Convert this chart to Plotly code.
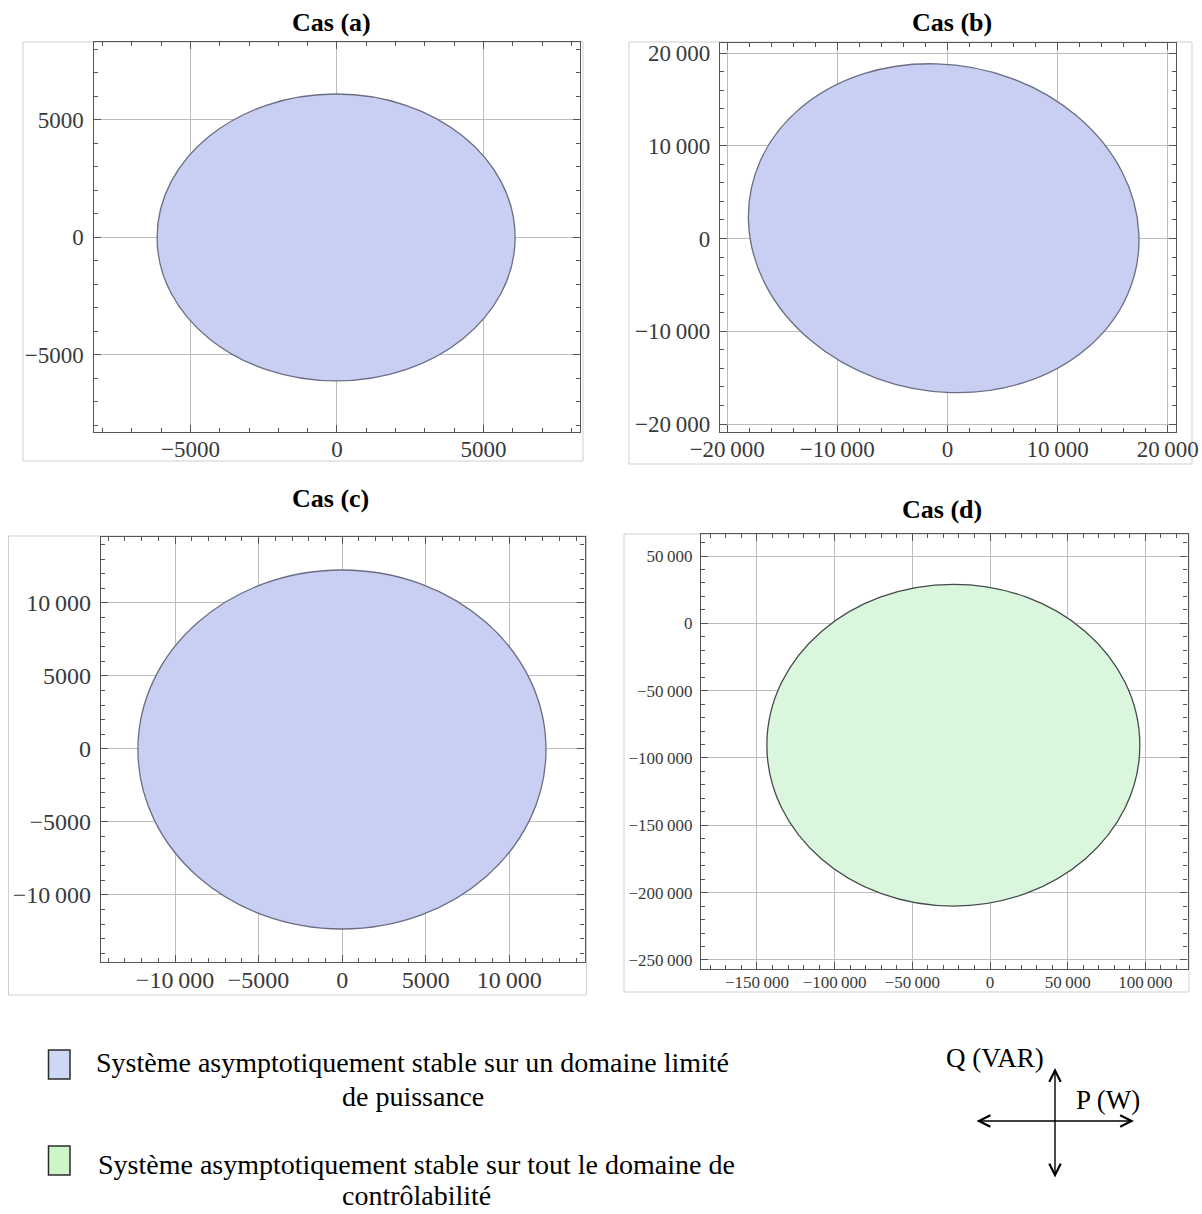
import math
import plotly.graph_objects as go

W, H = 1202, 1214
SERIF = "Liberation Serif, Times New Roman, serif"

# ---------------- data ----------------
panel_titles = ["Cas (a)", "Cas (b)", "Cas (c)", "Cas (d)"]

# stability region boundary: ellipse parameters in (P [W], Q [VAR])
ell_center_p = [-30, -340, -10, -23600]
ell_center_q = [-20, 1115, -35, -90500]
ell_semi_a = [6110, 18344, 12210, 120000]    # semi-axis along tilt direction
ell_semi_b = [6105, 17094, 12295, 119500]    # perpendicular semi-axis
ell_tilt_deg = [0, -45, 0, 0]
region_kind = ["limited", "limited", "limited", "full"]

x_ranges = [[-8310, 8294], [-20650, 20750], [-14430, 14510], [-186000, 127150]]
y_ranges = [[-8298, 8298], [-20860, 21080], [-14590, 14520], [-256700, 66340]]

x_tickvals = [[-5000, 0, 5000],
              [-20000, -10000, 0, 10000, 20000],
              [-10000, -5000, 0, 5000, 10000],
              [-150000, -100000, -50000, 0, 50000, 100000]]
x_ticktext = [["−5000", "0", "5000"],
              ["−20\u2009000", "−10\u2009000", "0", "10\u2009000", "20\u2009000"],
              ["−10\u2009000", "−5000", "0", "5000", "10\u2009000"],
              ["−150\u2009000", "−100\u2009000", "−50\u2009000", "0", "50\u2009000", "100\u2009000"]]
y_tickvals = [[-5000, 0, 5000],
              [-20000, -10000, 0, 10000, 20000],
              [-10000, -5000, 0, 5000, 10000],
              [-250000, -200000, -150000, -100000, -50000, 0, 50000]]
y_ticktext = [["−5000", "0", "5000"],
              ["−20\u2009000", "−10\u2009000", "0", "10\u2009000", "20\u2009000"],
              ["−10\u2009000", "−5000", "0", "5000", "10\u2009000"],
              ["−250\u2009000", "−200\u2009000", "−150\u2009000", "−100\u2009000", "−50\u2009000", "0", "50\u2009000"]]
minor_dtick = [1000, 2000, 1000, 10000]

legend_lines = [["Système asymptotiquement stable sur un domaine limité", "de puissance"],
                ["Système asymptotiquement stable sur tout le domaine de", "contrôlabilité"]]
axis_labels = ["Q (VAR)", "P (W)"]

# ---------------- styling / layout (pixels) ----------------
fill_col = {"limited": "#c9cff3", "full": "#daf7de"}
edge_col = {"limited": "#6b6e82", "full": "#454a4a"}
legend_fill = {"limited": "#cdd9f4", "full": "#cdf6c8"}

frame_px = [(93.5, 42, 580, 432), (720, 43, 1176, 432),
            (101, 537, 584.6, 962), (701, 534, 1187.6, 969)]
box_px = [(23, 42, 583, 461), (629, 42, 1192, 464),
          (8.5, 536, 586.5, 995), (624, 534, 1189, 992)]
title_px = [(331, 22), (952, 22), (330, 498), (942, 510)]
tick_size = [23, 23, 24, 17]
xlabel_standoff = [-4, -4, -4, -3]


def px(x):
    return x / W


def py(y):
    return 1 - y / H


def ellipse_path(cx, cy, a, b, tilt):
    t = math.radians(tilt)
    ux, uy = a * math.cos(t), a * math.sin(t)
    vx, vy = -b * math.sin(t), b * math.cos(t)
    k = 0.5522847498
    P = [(cx + ux, cy + uy), (cx + vx, cy + vy), (cx - ux, cy - uy), (cx - vx, cy - vy)]
    D = [(vx, vy), (-ux, -uy), (-vx, -vy), (ux, uy)]  # tangent directions at P[i]
    s = "M %.3f,%.3f" % P[0]
    for i in range(4):
        p0, p1 = P[i], P[(i + 1) % 4]
        d0, d1 = D[i], D[(i + 1) % 4]
        c1 = (p0[0] + k * d0[0], p0[1] + k * d0[1])
        c2 = (p1[0] - k * d1[0], p1[1] - k * d1[1])
        s += " C %.3f,%.3f %.3f,%.3f %.3f,%.3f" % (c1 + c2 + p1)
    return s + " Z"


fig = go.Figure()
shapes = []
annotations = []
layout_axes = {}

for i in range(4):
    n = "" if i == 0 else str(i + 1)
    xa, ya = "x" + n, "y" + n
    x0, y0, x1, y1 = frame_px[i]
    tickfont = dict(family=SERIF, size=tick_size[i], color="#3a3a3a")
    common = dict(
        showline=True, linecolor="#555555", linewidth=1.4, mirror="allticks",
        ticks="inside", ticklen=7, tickwidth=1, tickcolor="#555555",
        showgrid=True, gridcolor="#bdbdbd", gridwidth=1, zeroline=False,
        tickmode="array", tickfont=tickfont,
        fixedrange=True, automargin=False,
    )
    minor = dict(tickmode="linear", tick0=0, dtick=minor_dtick[i], ticks="inside",
                 ticklen=4, tickwidth=1, tickcolor="#555555", showgrid=False)
    layout_axes["xaxis" + n] = dict(
        common, domain=[px(x0), px(x1)], anchor=ya, range=x_ranges[i],
        tickvals=x_tickvals[i], ticktext=x_ticktext[i], minor=minor,
        ticklabelstandoff=xlabel_standoff[i],
    )
    layout_axes["yaxis" + n] = dict(
        common, domain=[py(y1), py(y0)], anchor=xa, range=y_ranges[i],
        tickvals=y_tickvals[i], ticktext=y_ticktext[i], minor=minor,
        ticklabelstandoff=4,
    )
    # invisible anchor trace (region centre) so the subplot is drawn
    fig.add_trace(go.Scatter(x=[ell_center_p[i]], y=[ell_center_q[i]], mode="markers",
                             marker=dict(size=1, opacity=0), hoverinfo="skip",
                             showlegend=False, xaxis=xa, yaxis=ya))
    # stability region
    kind = region_kind[i]
    shapes.append(dict(type="path", xref=xa, yref=ya, layer="above",
                       path=ellipse_path(ell_center_p[i], ell_center_q[i], ell_semi_a[i],
                                         ell_semi_b[i], ell_tilt_deg[i]),
                       fillcolor=fill_col[kind], line=dict(color=edge_col[kind], width=1.3)))
    # light panel border
    bx0, by0, bx1, by1 = box_px[i]
    shapes.append(dict(type="rect", xref="paper", yref="paper", layer="below",
                       x0=px(bx0), x1=px(bx1), y0=py(by1), y1=py(by0),
                       line=dict(color="#cfcfcf", width=1), fillcolor="rgba(0,0,0,0)"))
    tx, ty = title_px[i]
    annotations.append(dict(text="<b>%s</b>" % panel_titles[i], x=px(tx), y=py(ty),
                            xref="paper", yref="paper", showarrow=False,
                            xanchor="center", yanchor="middle",
                            font=dict(family=SERIF, size=26, color="black")))

# ---------------- legend ----------------
leg_box = [(48.5, 1050, 70, 1079), (48.5, 1146, 70, 1175)]
leg_text_xy = [[(413, 1062), (413, 1096)], [(416, 1164), (416, 1195)]]
for j, kind in enumerate(["limited", "full"]):
    x0, y0, x1, y1 = leg_box[j]
    shapes.append(dict(type="rect", xref="paper", yref="paper",
                       x0=px(x0), x1=px(x1), y0=py(y1), y1=py(y0),
                       fillcolor=legend_fill[kind], line=dict(color="#2b2b2b", width=1.5)))
    for line_txt, (lx, ly) in zip(legend_lines[j], leg_text_xy[j]):
        annotations.append(dict(text=line_txt, x=px(lx), y=py(ly), xref="paper", yref="paper",
                                showarrow=False, xanchor="center", yanchor="middle",
                                font=dict(family=SERIF, size=28, color="black")))

# ---------------- P / Q axes sketch ----------------
arrows = [((975, 1121), (1134, 1121)), ((1055, 1179), (1055, 1068))]
for (sx, sy), (ex, ey) in arrows:
    annotations.append(dict(text="", x=px(ex), y=py(ey), ax=sx - ex, ay=sy - ey,
                            xref="paper", yref="paper", axref="pixel", ayref="pixel",
                            showarrow=True, arrowhead=5, startarrowhead=5,
                            arrowside="end+start", arrowsize=1.6, startarrowsize=1.6,
                            arrowwidth=1.4, arrowcolor="black", standoff=0, startstandoff=0))
annotations.append(dict(text=axis_labels[0], x=px(995), y=py(1058), xref="paper", yref="paper",
                        showarrow=False, xanchor="center", yanchor="middle",
                        font=dict(family=SERIF, size=27, color="black")))
annotations.append(dict(text=axis_labels[1], x=px(1108), y=py(1100), xref="paper", yref="paper",
                        showarrow=False, xanchor="center", yanchor="middle",
                        font=dict(family=SERIF, size=27, color="black")))

fig.update_layout(
    template="none",
    width=W, height=H, margin=dict(l=0, r=0, t=0, b=0, autoexpand=False),
    paper_bgcolor="white", plot_bgcolor="white", showlegend=False,
    shapes=shapes, annotations=annotations, **layout_axes,
)

fig.write_html("out.html", config={"displayModeBar": False},
               post_script="document.body.style.margin='0px';document.body.style.overflow='hidden';")
